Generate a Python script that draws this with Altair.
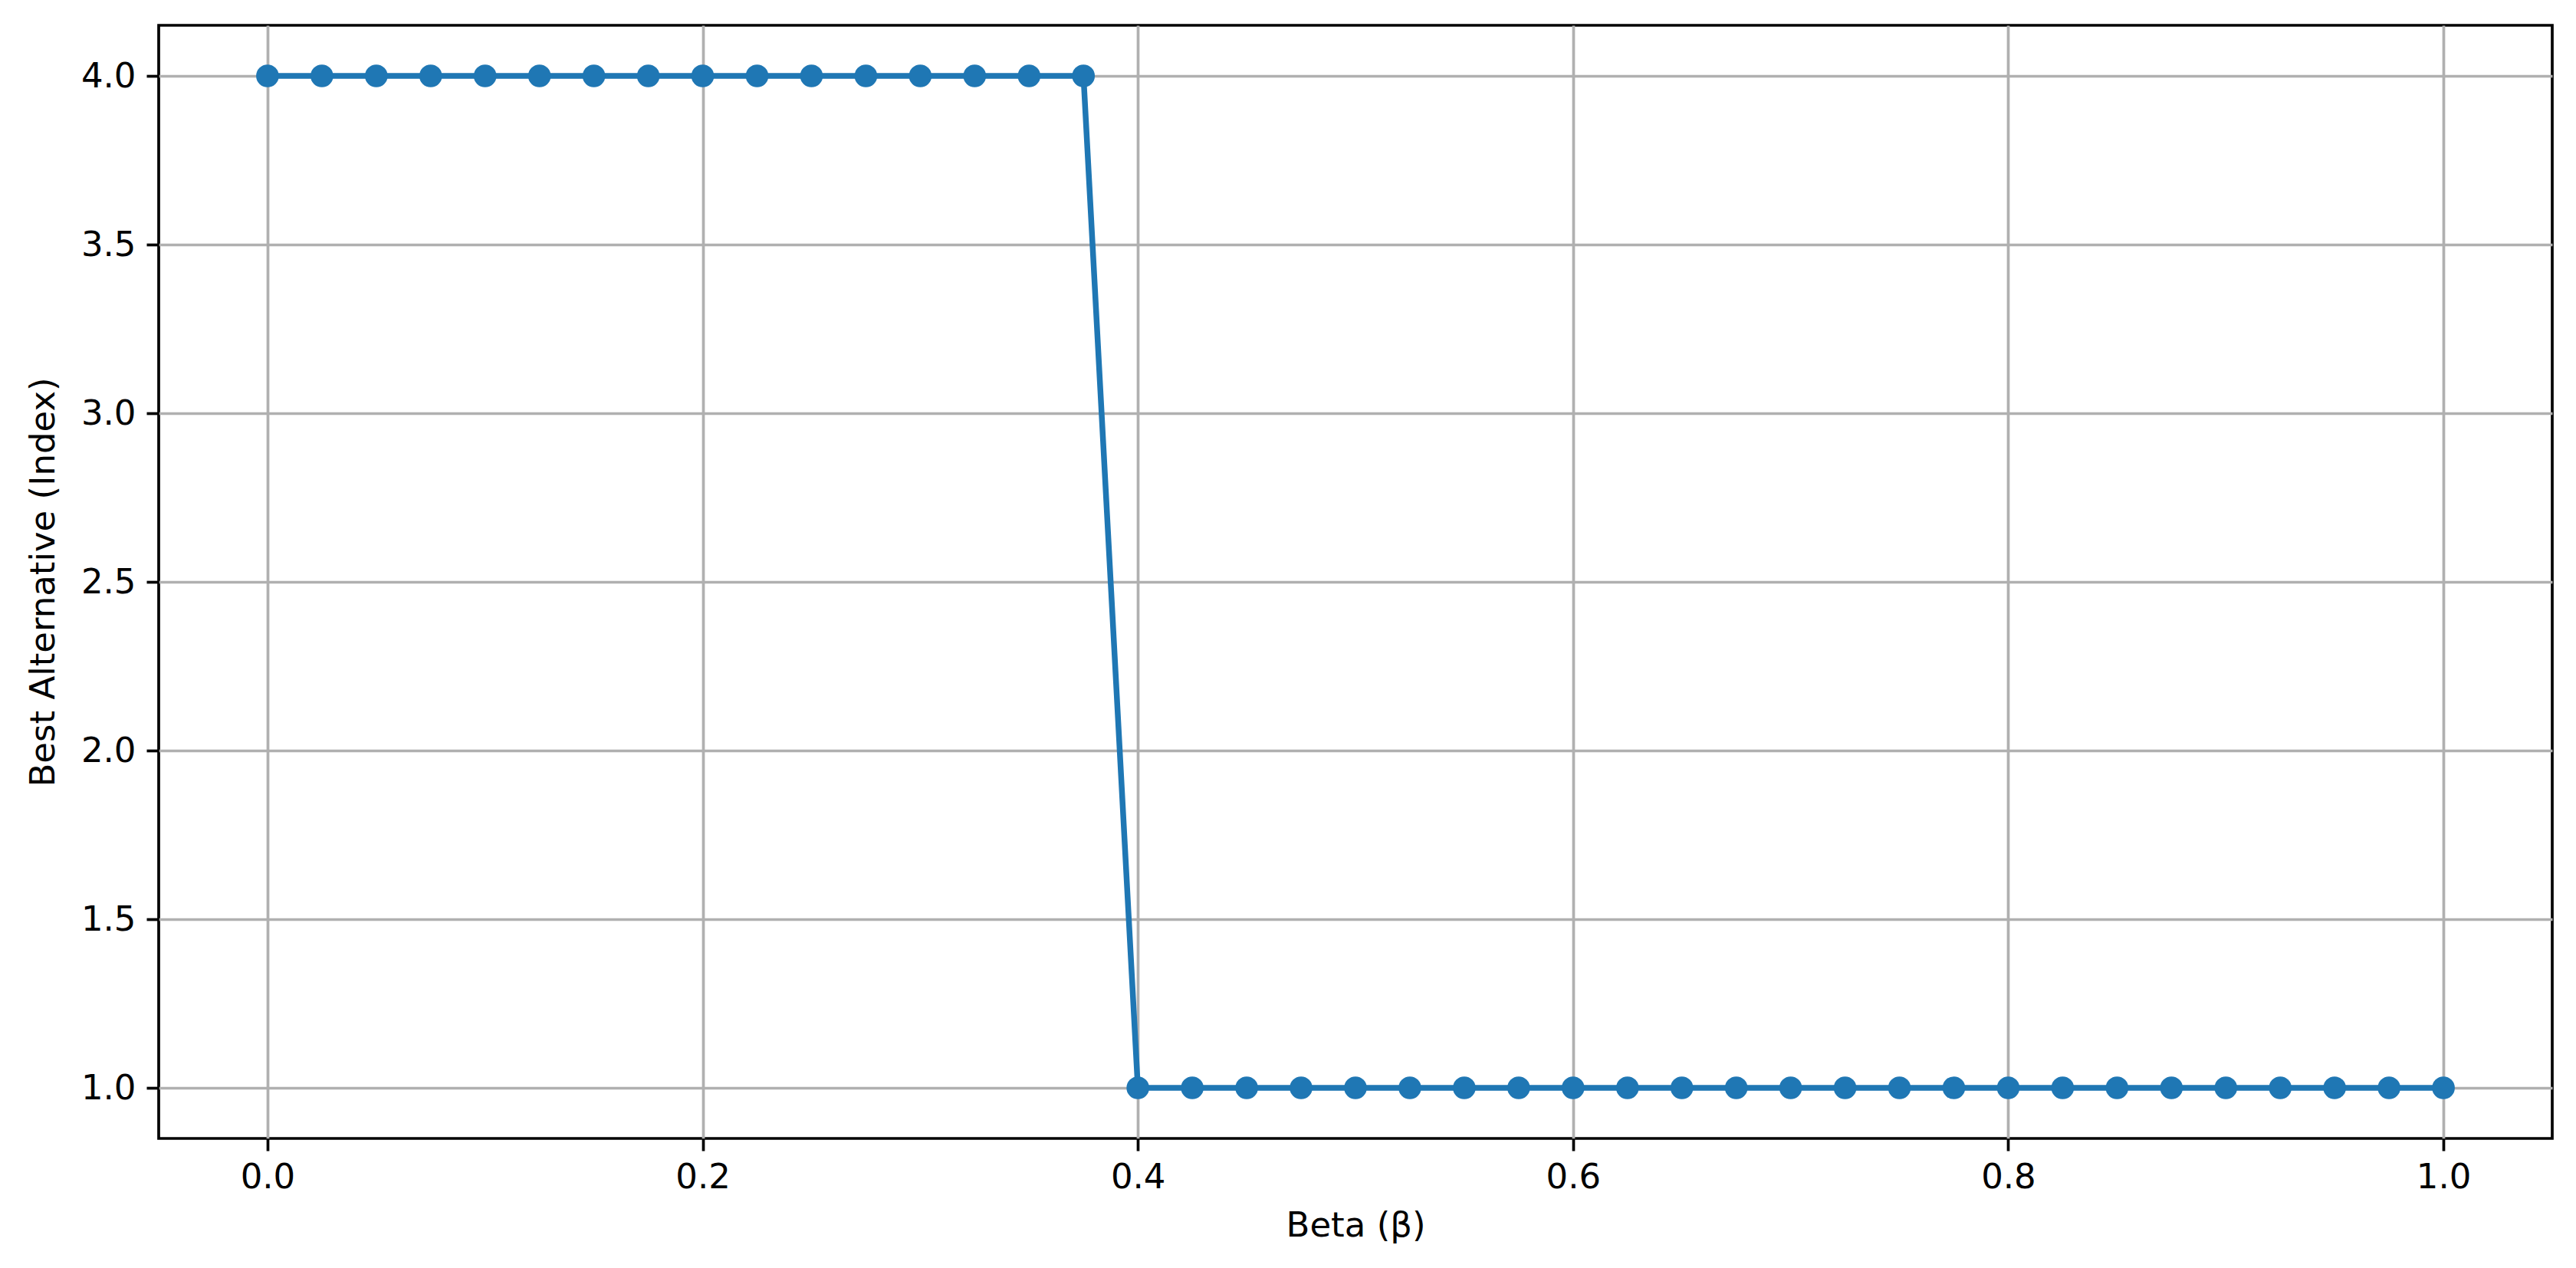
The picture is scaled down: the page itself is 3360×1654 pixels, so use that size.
import altair as alt
import pandas as pd

beta = [0.0, 0.025, 0.05, 0.075, 0.1, 0.125, 0.15, 0.175, 0.2, 0.225,
        0.25, 0.275, 0.3, 0.325, 0.35, 0.375, 0.4, 0.425, 0.45, 0.475,
        0.5, 0.525, 0.55, 0.575, 0.6, 0.625, 0.65, 0.675, 0.7, 0.725,
        0.75, 0.775, 0.8, 0.825, 0.85, 0.875, 0.9, 0.925, 0.95, 0.975, 1.0]
best = [4, 4, 4, 4, 4, 4, 4, 4, 4, 4,
        4, 4, 4, 4, 4, 4, 1, 1, 1, 1,
        1, 1, 1, 1, 1, 1, 1, 1, 1, 1,
        1, 1, 1, 1, 1, 1, 1, 1, 1, 1, 1]
x_ticks = [0.0, 0.2, 0.4, 0.6, 0.8, 1.0]
y_ticks = [1.0, 1.5, 2.0, 2.5, 3.0, 3.5, 4.0]

df = pd.DataFrame({"beta": beta, "best": best})
COLOR = "#1f77b4"
FONT = "DejaVu Sans"

x_enc = alt.X("beta:Q", title="Beta (β)",
              scale=alt.Scale(domain=[-0.05, 1.05], nice=False, zero=False),
              axis=alt.Axis(values=x_ticks, format=".1f", labelPadding=12,
                            titlePadding=18))
y_enc = alt.Y("best:Q", title="Best Alternative (Index)",
              scale=alt.Scale(domain=[0.85, 4.15], nice=False, zero=False),
              axis=alt.Axis(values=y_ticks, format=".1f", labelPadding=14,
                            titlePadding=26))

base = alt.Chart(df)
line = base.mark_line(color=COLOR, strokeWidth=7.5).encode(x=x_enc, y=y_enc)
pts = base.mark_circle(color=COLOR, size=880, opacity=1).encode(x=x_enc, y=y_enc)

chart = (line + pts).properties(
    width=3122, height=1452,
    autosize=alt.AutoSizeParams(type="none"),
    padding={"left": 199, "top": 25, "right": 20, "bottom": 150},
).configure(
    background="white"
).configure_view(
    stroke="black", strokeWidth=3.7
).configure_axis(
    domain=False,
    grid=True, gridColor="#b0b0b0", gridWidth=3.7, gridOpacity=1,
    tickColor="black", tickSize=16, tickWidth=3.7,
    labelFont=FONT, labelFontSize=45, labelColor="black",
    titleFont=FONT, titleFontSize=45, titleFontWeight="normal", titleColor="black",
)

chart.save("out.html", embed_options={"renderer": "svg", "actions": False})
